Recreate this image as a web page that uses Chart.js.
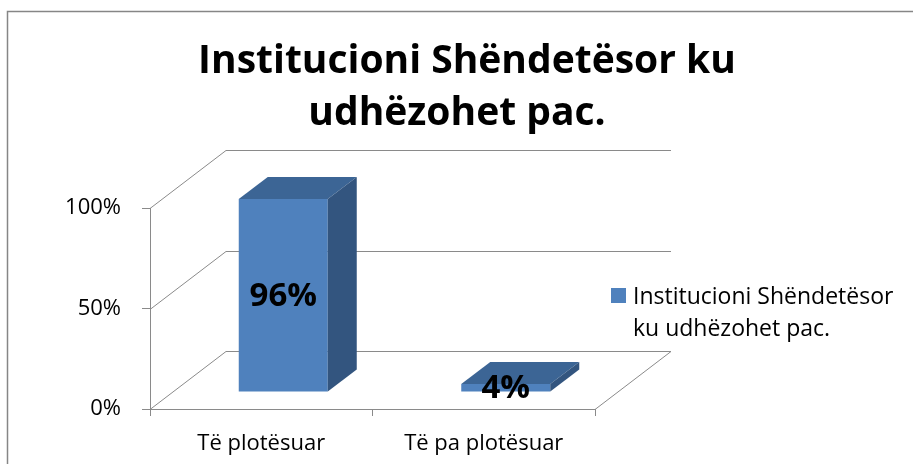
<!DOCTYPE html>
<html>
<head>
<meta charset="utf-8">
<script src="https://cdn.jsdelivr.net/npm/chart.js@4.4.0/dist/chart.umd.min.js"></script>
<style>
  body { margin: 0; background: #fff; }
</style>
</head>
<body>
<canvas id="myChart" width="913" height="464"></canvas>
<script>
var titleLines = ['Institucioni Shëndetësor ku', 'udhëzohet pac.'];
var categories = ['Të plotësuar', 'Të pa plotësuar'];
var seriesName = 'Institucioni Shëndetësor ku udhëzohet pac.';
var legendLines = ['Institucioni Shëndetësor', 'ku udhëzohet pac.'];
var values = [96, 4];
var yTicks = [0, 50, 100];

var FONT = '"Open Sans"';
var gridColor = '#8a8a8a';
var front = '#4f81bd', topFace = '#3c6595', sideFace = '#33557f';

// perspective offsets of the 3D box (back wall and bars)
var wall = { dx: 76, dy: -58 };
var barShift = { dx: 22, dy: -17 };
var barDepth = { dx: 29, dy: -22 };

var box3d = {
    id: 'box3d',
    beforeDraw: function (chart) {
        var c = chart.ctx;
        c.save();
        c.strokeStyle = '#868686';
        c.lineWidth = 1.5;
        c.strokeRect(7.5, 11.5, 1200, 1200);
        // title
        c.fillStyle = '#000';
        c.font = 'bold 39px ' + FONT;
        c.textAlign = 'center';
        c.textBaseline = 'alphabetic';
        c.fillText(titleLines[0], 467, 73);
        c.fillText(titleLines[1], 457, 125);
        c.restore();
    },
    beforeDatasetsDraw: function (chart) {
        var c = chart.ctx;
        var xs = chart.scales.x, ys = chart.scales.y;
        var l = xs.left, r = xs.right;
        c.save();
        c.strokeStyle = gridColor;
        c.lineWidth = 1;
        yTicks.forEach(function (v) {
            var y = Math.round(ys.getPixelForValue(v)) + 0.5;
            c.beginPath();
            c.moveTo(l, y);
            c.lineTo(l + wall.dx, y + wall.dy);
            c.lineTo(r + wall.dx, y + wall.dy);
            if (v === 0) {
                c.lineTo(r, y);
            }
            c.stroke();
        });
        c.restore();
        // front faces of bars drawn by chart.js, pushed into depth
        c.save();
        c.translate(barShift.dx, barShift.dy);
    },
    afterDatasetsDraw: function (chart) {
        var c = chart.ctx;
        c.restore();
        var meta = chart.getDatasetMeta(0);
        meta.data.forEach(function (bar, i) {
            var x0 = bar.x - bar.width / 2 + barShift.dx;
            var x1 = bar.x + bar.width / 2 + barShift.dx;
            var yt = bar.y + barShift.dy;
            var yb = bar.base + barShift.dy;
            c.fillStyle = topFace;
            c.beginPath();
            c.moveTo(x0, yt);
            c.lineTo(x0 + barDepth.dx, yt + barDepth.dy);
            c.lineTo(x1 + barDepth.dx, yt + barDepth.dy);
            c.lineTo(x1, yt);
            c.closePath();
            c.fill();
            c.fillStyle = sideFace;
            c.beginPath();
            c.moveTo(x1, yt);
            c.lineTo(x1 + barDepth.dx, yt + barDepth.dy);
            c.lineTo(x1 + barDepth.dx, yb + barDepth.dy);
            c.lineTo(x1, yb);
            c.closePath();
            c.fill();
        });
        // value labels
        c.save();
        c.fillStyle = '#000';
        c.font = 'bold 33px ' + FONT;
        c.textAlign = 'center';
        c.textBaseline = 'middle';
        meta.data.forEach(function (bar, i) {
            c.fillText(values[i] + '%', bar.x + barShift.dx, (bar.y + bar.base) / 2 + barShift.dy + 1);
        });
        c.restore();
    },
    afterDraw: function (chart) {
        var c = chart.ctx;
        c.save();
        c.fillStyle = front;
        c.fillRect(611, 288, 15, 15);
        c.fillStyle = '#000';
        c.font = '23px ' + FONT;
        c.textBaseline = 'alphabetic';
        c.fillText(legendLines[0], 633, 304);
        c.fillText(legendLines[1], 633, 336);
        c.restore();
    }
};

var ctx = document.getElementById('myChart').getContext('2d');
var chartObj = new Chart(ctx, {
    type: 'bar',
    data: {
        labels: categories,
        datasets: [{
            label: seriesName,
            data: values,
            backgroundColor: front,
            borderWidth: 0,
            categoryPercentage: 1,
            barPercentage: 0.4,
            clip: false
        }]
    },
    options: {
        responsive: false,
        animation: false,
        layout: { padding: { left: 0, top: 208, right: 318, bottom: 0 } },
        plugins: {
            legend: { display: false },
            tooltip: { enabled: false },
            title: { display: false }
        },
        scales: {
            x: {
                grid: { display: true, drawOnChartArea: false, offset: true, tickLength: 7, color: gridColor },
                border: { display: true, color: gridColor },
                ticks: { color: '#000', font: { family: FONT, size: 22 }, padding: 15 },
                afterFit: function (scale) { scale.height = 55; }
            },
            y: {
                min: 0,
                max: 100,
                afterBuildTicks: function (scale) {
                    scale.ticks = yTicks.map(function (v) { return { value: v }; });
                },
                grid: { display: true, drawOnChartArea: false, tickLength: 8, color: gridColor },
                border: { display: true, color: gridColor },
                ticks: {
                    color: '#000',
                    font: { family: FONT, size: 22 },
                    padding: 21,
                    callback: function (v) { return v + '%'; }
                },
                afterFit: function (scale) { scale.width = 150; }
            }
        }
    },
    plugins: [box3d]
});
</script>
</body>
</html>
